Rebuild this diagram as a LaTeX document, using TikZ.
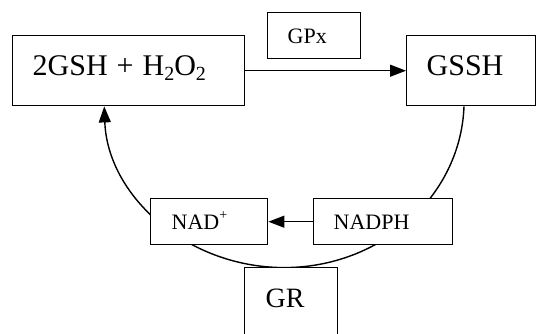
\documentclass[tikz,border=0pt]{standalone}
\usepackage{fontspec}
\setmainfont{Liberation Serif}
\usetikzlibrary{arrows.meta,backgrounds}
\newcommand{\bigtxt}{\fontsize{30}{36}\selectfont}
\newcommand{\smalltxt}{\fontsize{22}{26}\selectfont}
\newcommand{\subtwo}{\raisebox{-0.17em}{\fontsize{20}{22}\selectfont 2}}
\tikzset{
  bx/.style args={#1/#2/#3/#4}{draw, fill=white, line width=1.4pt, anchor=north west,
    inner ysep=0pt, inner xsep=#1, text width=#2, text height=#3, text depth=#4, align=left},
  tip/.style={-{Triangle[length=16pt,width=12pt]}},
  ln/.style={line width=1.4pt}
}
\begin{document}
\begin{tikzpicture}[x=1pt,y=-1pt]
\useasboundingbox (0,0) rectangle (536,333);
\clip (0,0) rectangle (536,333);
\node[bx=20pt/192pt/40pt/30pt] (a) at (12,35) {\bigtxt 2GSH\hspace{0.3em}+\hspace{0.3em}H\subtwo O\subtwo};
\node[bx=20pt/53pt/31pt/15pt] (gpx) at (267,12) {\smalltxt GPx};
\node[bx=20pt/89pt/40pt/30pt] (gssh) at (406,35) {\bigtxt GSSH};
\node[bx=21pt/75pt/31pt/15pt] (nad) at (150,198) {\smalltxt NAD\raisebox{0.45em}{\fontsize{14}{14}\selectfont +}};
\node[bx=20pt/99pt/31pt/15pt] (nadph) at (313,198) {\smalltxt NADPH};
\node[bx=21pt/51pt/40pt/40pt] (gr) at (244,267) {\fontsize{28}{34}\selectfont GR};
\draw[ln,tip] (a.east) -- (gssh.west);
\draw[ln,tip] (nadph.west) -- (nad.east);
\begin{scope}[on background layer]
\draw[ln,tip] ([xshift=58pt]gssh.south west) arc[start angle=-2, end angle=-178, x radius=180pt, y radius=167pt];
\end{scope}
\end{tikzpicture}
\end{document}
